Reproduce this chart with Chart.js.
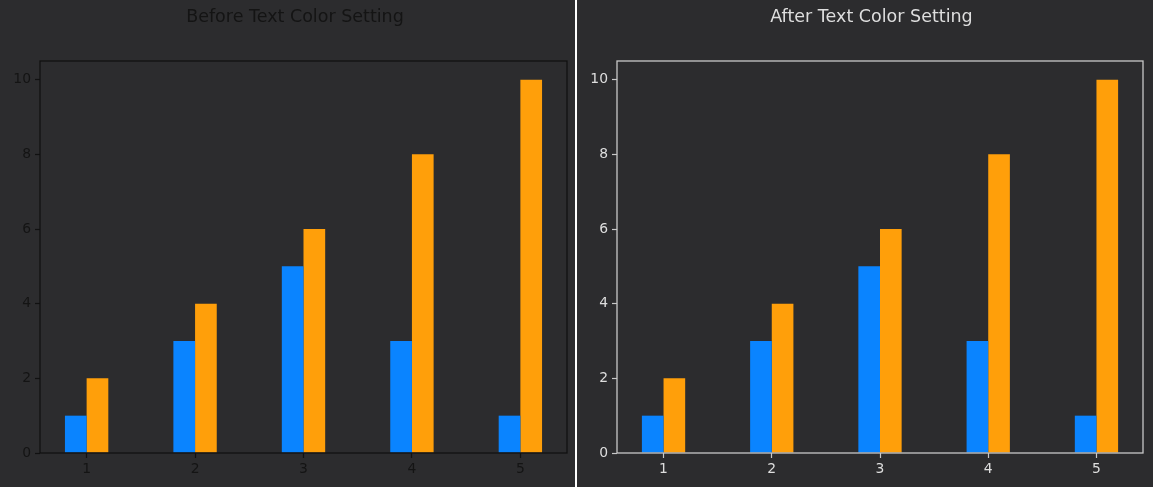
<!DOCTYPE html>
<html>
<head>
<meta charset="utf-8">
<script src="https://cdn.jsdelivr.net/npm/chart.js@4/dist/chart.umd.min.js"></script>
<style>
  html, body { margin: 0; padding: 0; background: #2c2c2e; }
  #wrap { position: relative; width: 1153px; height: 487px; overflow: hidden; }
  .box { position: absolute; top: 0; height: 487px; }
  #sep { position: absolute; left: 575px; top: 0; width: 2px; height: 487px; background: #ffffff; z-index: 5; }
</style>
</head>
<body>
<div id="wrap">
  <div class="box" style="left:0; width:590px"><canvas id="before"></canvas></div>
  <div class="box" style="left:577px; width:589px"><canvas id="after"></canvas></div>
  <div id="sep"></div>
</div>
<script>
const categories = [1, 2, 3, 4, 5];
const seriesA = [1, 3, 5, 3, 1];
const seriesB = [2, 4, 6, 8, 10];
const yTicks = [0, 2, 4, 6, 8, 10];

const blue = '#0a84ff';
const orange = '#ff9f0a';
const fontFamily = "'DejaVu Sans', sans-serif";

function makeChart(id, title, textColor, frameColor) {
    // matplotlib style box around the plot area
    const framePlugin = {
        id: 'frame',
        afterDatasetsDraw(chart) {
            const a = chart.chartArea;
            const ctx = chart.ctx;
            ctx.save();
            ctx.strokeStyle = frameColor;
            ctx.lineWidth = 1.3;
            ctx.strokeRect(a.left, a.top, a.right - a.left, a.bottom - a.top);
            ctx.restore();
        }
    };

    return new Chart(document.getElementById(id), {
        type: 'bar',
        data: {
            datasets: [{
                data: categories.map((c, i) => ({ x: c, y: seriesA[i] })),
                backgroundColor: blue,
                borderWidth: 0
            }, {
                data: categories.map((c, i) => ({ x: c, y: seriesB[i] })),
                backgroundColor: orange,
                borderWidth: 0
            }]
        },
        options: {
            responsive: true,
            maintainAspectRatio: false,
            animation: false,
            layout: { padding: 0 },
            datasets: { bar: { categoryPercentage: 0.4, barPercentage: 1.0 } },
            plugins: {
                legend: { display: false },
                tooltip: { enabled: false },
                title: {
                    display: true,
                    text: title,
                    color: textColor,
                    font: { family: fontFamily, size: 17.5, weight: 'normal' },
                    padding: { top: 7, bottom: 33 }
                }
            },
            scales: {
                x: {
                    type: 'linear',
                    offset: false,
                    min: 0.57,
                    max: 5.43,
                    afterBuildTicks: s => { s.ticks = categories.map(v => ({ value: v })); },
                    afterFit: s => { s.height = 34; },
                    grid: { offset: false, drawOnChartArea: false, drawTicks: true, tickLength: 5, color: frameColor, tickWidth: 1.2 },
                    border: { display: false },
                    ticks: { color: textColor, padding: 3, font: { family: fontFamily, size: 13.9 } }
                },
                y: {
                    min: 0,
                    max: 10.5,
                    afterBuildTicks: s => { s.ticks = yTicks.map(v => ({ value: v })); },
                    afterFit: s => { s.width = 40; },
                    grid: { drawOnChartArea: false, drawTicks: true, tickLength: 5, color: frameColor, tickWidth: 1.2 },
                    border: { display: false },
                    ticks: { color: textColor, padding: 4, font: { family: fontFamily, size: 13.9 } }
                },
                // empty right margin so the title centres like the figure's
                yRight: {
                    position: 'right',
                    afterFit: s => { s.width = 23; },
                    grid: { display: false },
                    border: { display: false },
                    ticks: { display: false }
                }
            }
        },
        plugins: [framePlugin]
    });
}

makeChart('before', 'Before Text Color Setting', '#141414', '#111111');
makeChart('after', 'After Text Color Setting', '#dedede', '#c8c8c8');
</script>
</body>
</html>
